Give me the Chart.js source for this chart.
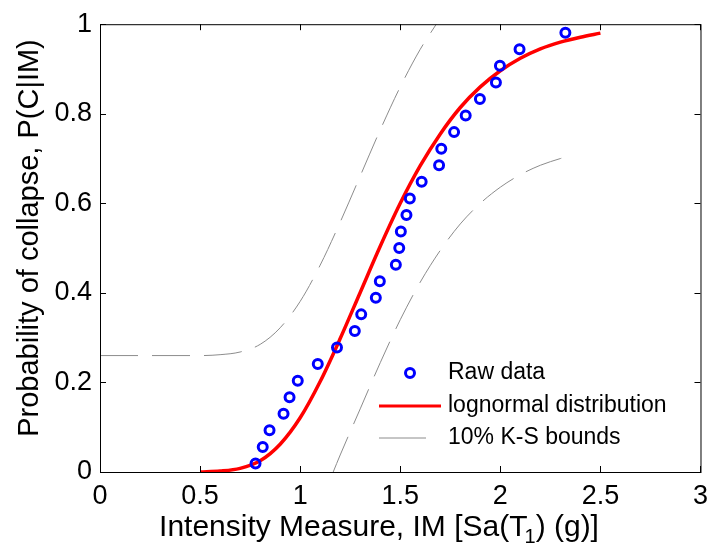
<!DOCTYPE html>
<html>
<head>
<meta charset="utf-8">
<script src="https://cdn.jsdelivr.net/npm/chart.js@4.4.1/dist/chart.umd.min.js"></script>
<style>
  html, body { margin: 0; padding: 0; background: #fff; }
  #wrap { width: 716px; height: 553px; }
</style>
</head>
<body>
<div id="wrap"><canvas id="c" width="716" height="553"></canvas></div>
<script>
// raw data (empirical fractions of collapse)
const rawIM = [0.777, 0.813, 0.847, 0.917, 0.947, 0.988, 1.088, 1.184, 1.273, 1.305, 1.378, 1.398, 1.478,
               1.495, 1.503, 1.531, 1.548, 1.607, 1.694, 1.705, 1.769, 1.827, 1.898, 1.978, 1.998, 2.096, 2.325]
const rawP = [0.019, 0.056, 0.093, 0.130, 0.167, 0.204, 0.241, 0.278, 0.315, 0.352, 0.389, 0.426, 0.463,
              0.500, 0.537, 0.574, 0.611, 0.648, 0.685, 0.722, 0.759, 0.796, 0.833, 0.870, 0.907, 0.944, 0.981]

// fitted lognormal curve
const fitIM = [0.5, 0.6, 0.7, 0.8, 0.9, 1.0, 1.1, 1.2, 1.3, 1.4, 1.5, 1.6, 1.7, 1.8, 1.9, 2.0, 2.1, 2.2, 2.3, 2.4, 2.5]
const fitP = [0.000, 0.002, 0.008, 0.025, 0.062, 0.121, 0.202, 0.298, 0.401, 0.504, 0.600, 0.684, 0.755, 0.814,
              0.860, 0.896, 0.924, 0.945, 0.960, 0.971, 0.980]

// K-S bounds
const upperIM = [0, 0.5, 0.6, 0.7, 0.8, 0.9, 1.0, 1.1, 1.2, 1.3, 1.4, 1.5, 1.6, 1.68]
const upperP = [0.26, 0.26, 0.262, 0.268, 0.285, 0.322, 0.381, 0.462, 0.558, 0.661, 0.764, 0.860, 0.944, 1.0]
const lowerIM = [1.165, 1.2, 1.3, 1.4, 1.5, 1.6, 1.7, 1.8, 1.9, 2.0, 2.1, 2.2, 2.3, 2.33]
const lowerP = [0.0, 0.038, 0.141, 0.244, 0.340, 0.424, 0.495, 0.554, 0.600, 0.636, 0.664, 0.685, 0.700, 0.704]

const xTicks = [0, 0.5, 1, 1.5, 2, 2.5, 3]
const yTicks = [0, 0.2, 0.4, 0.6, 0.8, 1]

const FONT = "'Liberation Sans', Arial, sans-serif"

function pts(xs, ys) {
    return xs.map((x, i) => ({ x: x, y: ys[i] }))
}

// box, inward ticks, axis titles and legend
const decor = {
    id: 'decor',
    afterDraw(chart) {
        const ctx = chart.ctx
        const a = chart.chartArea
        const sx = chart.scales.x
        const sy = chart.scales.y
        ctx.save()
        ctx.strokeStyle = '#000'
        ctx.lineWidth = 1
        ctx.strokeRect(a.left + 0.5, a.top + 0.5, a.right - a.left, a.bottom - a.top)
        ctx.beginPath()
        xTicks.forEach(t => {
            const px = Math.round(sx.getPixelForValue(t)) + 0.5
            ctx.moveTo(px, a.bottom); ctx.lineTo(px, a.bottom - 6)
            ctx.moveTo(px, a.top); ctx.lineTo(px, a.top + 6)
        })
        yTicks.forEach(t => {
            const py = Math.round(sy.getPixelForValue(t)) + 0.5
            ctx.moveTo(a.left, py); ctx.lineTo(a.left + 6, py)
            ctx.moveTo(a.right, py); ctx.lineTo(a.right - 6, py)
        })
        ctx.stroke()

        // x title with subscript
        ctx.fillStyle = '#000'
        ctx.textBaseline = 'alphabetic'
        ctx.textAlign = 'left'
        const p1 = 'Intensity Measure, IM [Sa(T'
        const p3 = ') (g)]'
        ctx.font = '30px ' + FONT
        const w1 = ctx.measureText(p1).width
        ctx.font = '20px ' + FONT
        const w2 = ctx.measureText('1').width
        ctx.font = '30px ' + FONT
        const w3 = ctx.measureText(p3).width
        const x0 = 379 - (w1 + w2 + w3 - 3) / 2
        const base = 536
        ctx.fillText(p1, x0, base)
        ctx.font = '20px ' + FONT
        ctx.fillText('1', x0 + w1 - 3, base + 7)
        ctx.font = '30px ' + FONT
        ctx.fillText(p3, x0 + w1 + w2 - 3, base)

        // y title
        ctx.save()
        ctx.translate(38, 238)
        ctx.rotate(-Math.PI / 2)
        ctx.textAlign = 'center'
        ctx.font = '29px ' + FONT
        ctx.fillText('Probability of collapse, P(C|IM)', 0, 0)
        ctx.restore()

        // legend
        const lx = 448
        const rows = [373, 406, 438]
        ctx.font = '23px ' + FONT
        ctx.textBaseline = 'middle'
        ctx.fillText('Raw data', lx, rows[0])
        ctx.fillText('lognormal distribution', lx, rows[1])
        ctx.fillText('10% K-S bounds', lx, rows[2])
        ctx.strokeStyle = '#0000ff'
        ctx.lineWidth = 3
        ctx.beginPath()
        ctx.arc(410, rows[0], 4.5, 0, Math.PI * 2)
        ctx.stroke()
        ctx.strokeStyle = '#ff0000'
        ctx.beginPath()
        ctx.moveTo(379, rows[1]); ctx.lineTo(441, rows[1])
        ctx.stroke()
        ctx.strokeStyle = '#8c8c8c'
        ctx.lineWidth = 1
        ctx.beginPath()
        ctx.moveTo(379, rows[2]); ctx.lineTo(426, rows[2])
        ctx.stroke()
        ctx.restore()
    }
}

new Chart(document.getElementById('c'), {
    type: 'scatter',
    data: {
        datasets: [
            {
                label: 'Raw data',
                data: pts(rawIM, rawP),
                showLine: false,
                pointStyle: 'circle',
                pointRadius: 4.5,
                pointBorderWidth: 3,
                borderColor: '#0000ff',
                backgroundColor: 'rgba(0,0,0,0)',
                order: 0
            },
            {
                label: 'lognormal distribution',
                data: pts(fitIM, fitP),
                showLine: true,
                borderColor: '#ff0000',
                borderWidth: 3.5,
                pointRadius: 0,
                cubicInterpolationMode: 'monotone',
                order: 1
            },
            {
                label: '10% K-S bounds',
                data: pts(upperIM, upperP),
                showLine: true,
                borderColor: '#8c8c8c',
                borderWidth: 1,
                borderDash: [38, 14],
                pointRadius: 0,
                cubicInterpolationMode: 'monotone',
                order: 2
            },
            {
                label: 'lower',
                data: pts(lowerIM, lowerP),
                showLine: true,
                borderColor: '#8c8c8c',
                borderWidth: 1,
                borderDash: [38, 14],
                pointRadius: 0,
                cubicInterpolationMode: 'monotone',
                order: 2
            }
        ]
    },
    options: {
        responsive: false,
        animation: false,
        layout: { padding: { top: 19, right: 14, left: 0, bottom: 0 } },
        plugins: {
            legend: { display: false },
            tooltip: { enabled: false }
        },
        scales: {
            x: {
                type: 'linear',
                min: 0,
                max: 3,
                afterFit: s => { s.height = 81 },
                afterBuildTicks: s => { s.ticks = xTicks.map(v => ({ value: v })) },
                grid: { display: false, drawTicks: false },
                border: { display: false },
                ticks: {
                    color: '#000',
                    padding: 8,
                    maxRotation: 0,
                    font: { family: FONT, size: 27 },
                    callback: v => String(v)
                }
            },
            y: {
                type: 'linear',
                min: 0,
                max: 1,
                afterFit: s => { s.width = 100 },
                afterBuildTicks: s => { s.ticks = yTicks.map(v => ({ value: v })) },
                grid: { display: false, drawTicks: false },
                border: { display: false },
                ticks: {
                    color: '#000',
                    padding: 8,
                    font: { family: FONT, size: 27 },
                    callback: v => String(Math.round(v * 10) / 10)
                }
            }
        }
    },
    plugins: [decor]
})
</script>
</body>
</html>
